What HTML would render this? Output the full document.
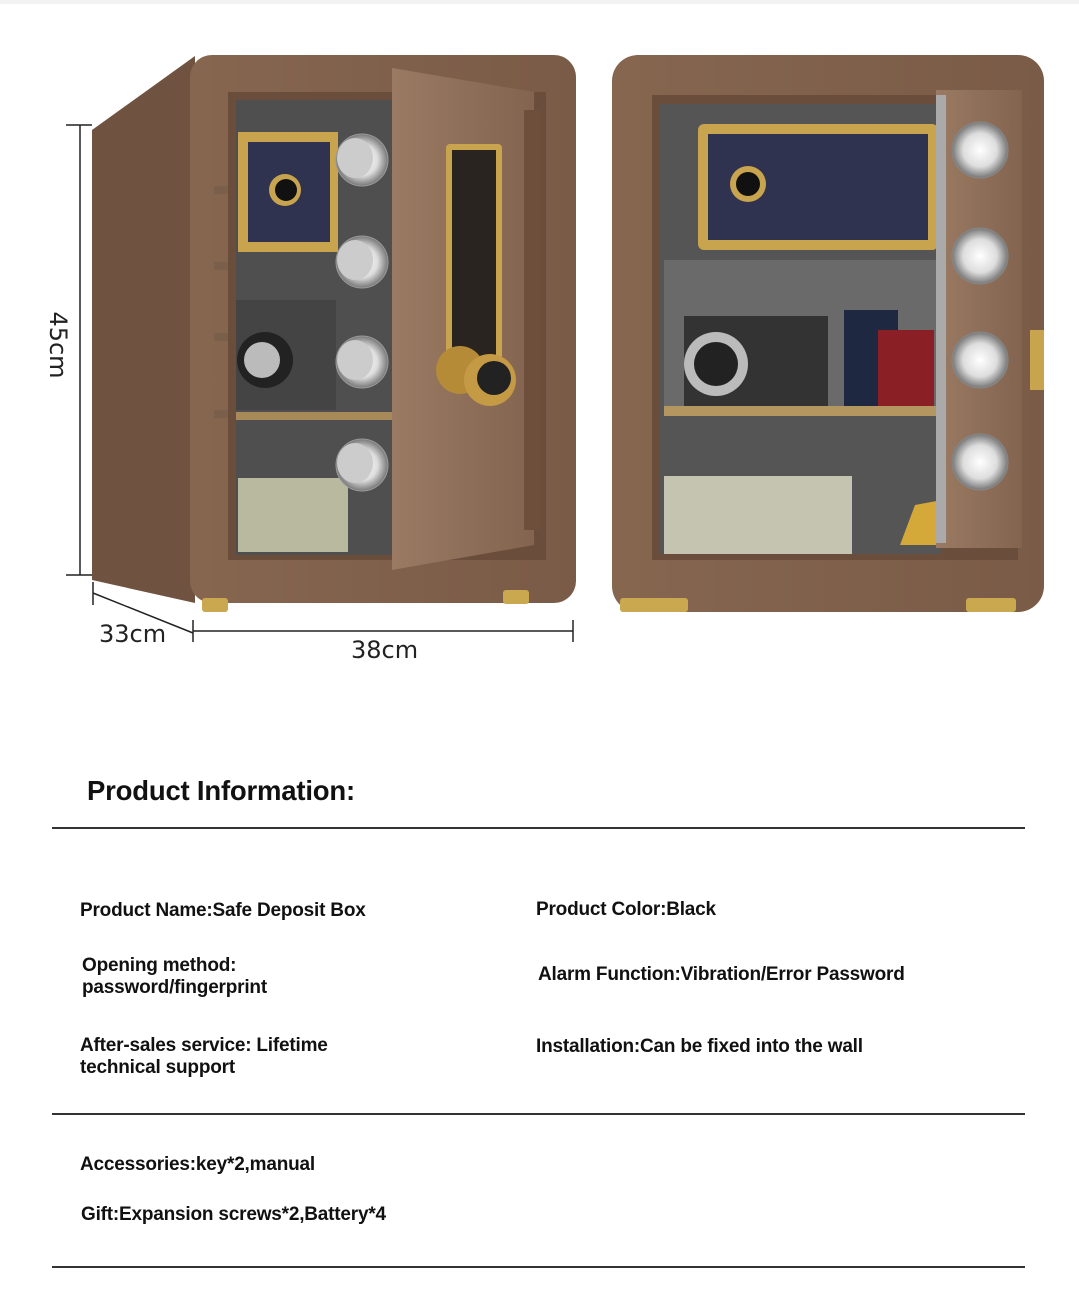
<!DOCTYPE html>
<html><head><meta charset="utf-8"><style>
body{margin:0;background:#fff;width:1079px;height:1308px;position:relative;overflow:hidden;font-family:"Liberation Sans",sans-serif;color:#111}
.t{position:absolute;font-size:19px;font-weight:bold;line-height:22px;letter-spacing:-0.2px}
.hr{position:absolute;left:52px;width:973px;height:1.5px;background:#333}
</style></head><body>
<svg width="1079" height="700" style="position:absolute;left:0;top:0">
<defs>
<linearGradient id="fr" x1="0" x2="1"><stop offset="0" stop-color="#86664f"/><stop offset="1" stop-color="#7a5b47"/></linearGradient>
<linearGradient id="dr" x1="0" x2="1"><stop offset="0" stop-color="#9a7a62"/><stop offset="1" stop-color="#836450"/></linearGradient>
<radialGradient id="kn"><stop offset="0" stop-color="#fff"/><stop offset="0.6" stop-color="#ddd"/><stop offset="1" stop-color="#777"/></radialGradient>
</defs>
<rect x="0" y="0" width="1079" height="4" fill="#f2f2f2"/>
<polygon points="92,130 195,56 195,603 92,580" fill="#6f523f"/>
<rect x="190" y="55" width="386" height="548" rx="22" fill="url(#fr)"/>
<rect x="228" y="92" width="318" height="468" fill="#6a4d3b"/>
<rect x="236" y="100" width="160" height="455" fill="#4f4f4f"/>
<rect x="238" y="132" width="100" height="120" fill="#c9a44f"/>
<rect x="248" y="142" width="82" height="100" fill="#2f3350"/>
<circle cx="285" cy="190" r="16" fill="#c9a44f"/><circle cx="286" cy="190" r="11" fill="#111"/>
<rect x="236" y="300" width="100" height="110" fill="#444"/>
<circle cx="265" cy="360" r="28" fill="#222"/><circle cx="262" cy="360" r="18" fill="#bbb"/>
<rect x="236" y="412" width="160" height="8" fill="#a88a5a"/>
<rect x="238" y="478" width="110" height="74" fill="#b9b9a0"/>
<polygon points="392,68 534,92 534,545 392,570" fill="url(#dr)"/>
<rect x="524" y="110" width="16" height="420" fill="#6d4f3c"/>
<g fill="url(#kn)" stroke="#999"><circle cx="362" cy="160" r="26"/><circle cx="362" cy="262" r="26"/><circle cx="362" cy="362" r="26"/><circle cx="362" cy="465" r="26"/></g>
<g fill="#ccc"><ellipse cx="355" cy="158" rx="18" ry="20"/><ellipse cx="355" cy="260" rx="18" ry="20"/><ellipse cx="355" cy="360" rx="18" ry="20"/><ellipse cx="355" cy="463" rx="18" ry="20"/></g>
<rect x="446" y="144" width="56" height="234" rx="4" fill="#c9a44f"/>
<rect x="452" y="150" width="44" height="222" fill="#2a2420"/>
<circle cx="460" cy="370" r="24" fill="#b58b38"/>
<circle cx="490" cy="380" r="26" fill="#c49a45"/><circle cx="494" cy="378" r="17" fill="#222"/>
<rect x="202" y="598" width="26" height="14" rx="3" fill="#c9a850"/><rect x="503" y="590" width="26" height="14" rx="3" fill="#c9a850"/>
<g fill="#7a5f4a"><rect x="214" y="186" width="14" height="8"/><rect x="214" y="262" width="14" height="8"/><rect x="214" y="333" width="14" height="8"/><rect x="214" y="410" width="14" height="8"/></g>
<g stroke="#222" stroke-width="1.5" fill="none">
<line x1="80" y1="125" x2="80" y2="575"/><line x1="66" y1="125" x2="92" y2="125"/><line x1="66" y1="575" x2="92" y2="575"/>
<line x1="93" y1="593" x2="193" y2="633"/><line x1="93" y1="582" x2="93" y2="605"/>
<line x1="193" y1="631" x2="573" y2="631"/><line x1="193" y1="620" x2="193" y2="642"/><line x1="573" y1="620" x2="573" y2="642"/>
</g>
<text x="99" y="642" font-family="DejaVu Sans" font-size="24" fill="#222">33cm</text>
<text x="351" y="658" font-family="DejaVu Sans" font-size="24" fill="#222">38cm</text>
<text transform="translate(50,345) rotate(90)" text-anchor="middle" font-family="DejaVu Sans" font-size="24" fill="#222">45cm</text>
<rect x="612" y="55" width="432" height="557" rx="26" fill="url(#fr)"/>
<rect x="652" y="95" width="366" height="465" fill="#6a4d3b"/>
<rect x="660" y="104" width="282" height="450" fill="#555"/>
<rect x="698" y="124" width="240" height="126" rx="6" fill="#c9a44f"/>
<rect x="708" y="134" width="220" height="106" fill="#2f3350"/>
<circle cx="748" cy="184" r="18" fill="#c9a44f"/><circle cx="748" cy="184" r="12" fill="#111"/>
<rect x="664" y="260" width="274" height="148" fill="#6a6a6a"/>
<rect x="684" y="316" width="144" height="94" fill="#333"/>
<circle cx="716" cy="364" r="32" fill="#bbb"/><circle cx="716" cy="364" r="22" fill="#222"/>
<rect x="844" y="310" width="54" height="98" fill="#1e2840"/><rect x="878" y="330" width="56" height="80" fill="#8a1f25"/>
<rect x="664" y="406" width="274" height="10" fill="#b49660"/>
<rect x="664" y="476" width="188" height="78" fill="#c4c4b0"/>
<polygon points="900,545 942,545 942,500 915,505" fill="#d4a93a"/>
<rect x="936" y="90" width="86" height="458" fill="url(#dr)"/>
<rect x="936" y="95" width="10" height="448" fill="#aaa"/>
<g fill="url(#kn)" stroke="#888"><circle cx="980" cy="150" r="28"/><circle cx="980" cy="256" r="28"/><circle cx="980" cy="360" r="28"/><circle cx="980" cy="462" r="28"/></g>
<rect x="1030" y="330" width="14" height="60" fill="#c9a44f"/>
<rect x="620" y="598" width="68" height="14" rx="3" fill="#c9a850"/><rect x="966" y="598" width="50" height="14" rx="3" fill="#c9a850"/>
</svg>
<div class="t" style="left:87px;top:775px;font-size:27.5px;line-height:32px">Product Information:</div>
<div class="hr" style="top:827px"></div>
<div class="t" style="left:80px;top:900px">Product Name:Safe Deposit Box</div>
<div class="t" style="left:536px;top:899px">Product Color:Black</div>
<div class="t" style="left:82px;top:955px">Opening method:<br>password/fingerprint</div>
<div class="t" style="left:538px;top:964px">Alarm Function:Vibration/Error Password</div>
<div class="t" style="left:80px;top:1035px">After-sales service: Lifetime<br>technical support</div>
<div class="t" style="left:536px;top:1036px">Installation:Can be fixed into the wall</div>
<div class="hr" style="top:1113px"></div>
<div class="t" style="left:80px;top:1154px">Accessories:key*2,manual</div>
<div class="t" style="left:81px;top:1204px">Gift:Expansion screws*2,Battery*4</div>
<div class="hr" style="top:1266px"></div>
</body></html>
